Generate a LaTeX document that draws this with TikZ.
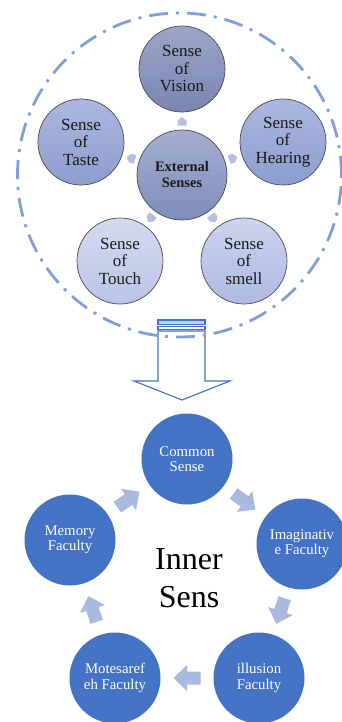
\documentclass[tikz,border=0pt]{standalone}
\usepackage{fontspec}
\setmainfont{Liberation Serif}
\usetikzlibrary{calc}
\definecolor{cblue}{HTML}{4472C4}
\definecolor{cyclearrow}{HTML}{AAB9DF}
\definecolor{ringblue}{HTML}{7F9FDA}
\definecolor{tinyblue}{HTML}{B3BFE2}
\begin{document}
\begin{tikzpicture}[x=1pt,y=1pt,
  sense/.style={circle, draw=black!70, line width=0.7pt, minimum size=86pt,
    inner sep=0pt, align=center, text=black!90,
    font=\fontsize{17}{17.5}\selectfont},
  hub/.style={sense, minimum size=90pt, font=\bfseries\fontsize{14.5}{16}\selectfont},
  faculty/.style={circle, fill=cblue, minimum size=91pt, inner sep=0pt,
    align=center, text=white, font=\fontsize{14.8}{15.3}\selectfont},
  tiny/.pic={\fill[tinyblue] (-4.5,-3.6) -- (4.5,-3.6) -- (4.5,1.2) -- (0,5) -- (-4.5,1.2) -- cycle;},
  cyc/.pic={\fill[cyclearrow] (-13.5,-6.5) -- (0,-6.5) -- (0,-13) -- (13.5,0)
    -- (0,13) -- (0,6.5) -- (-13.5,6.5) -- cycle;}]
\useasboundingbox (0,0) rectangle (342,-722);

% external senses around the hub
\node[hub, top color={rgb,255:red,164;green,174;blue,210}, bottom color={rgb,255:red,128;green,141;blue,186}]
  (ext) at (182,-175) {External\\Senses};
\node[sense, top color={rgb,255:red,156;green,165;blue,200}, bottom color={rgb,255:red,122;green,134;blue,178}]
  (vis) at (182,-69) {Sense\\of\\Vision};
\node[sense, top color={rgb,255:red,172;green,184;blue,224}, bottom color={rgb,255:red,140;green,156;blue,206}]
  (hear) at (283,-142) {Sense\\of\\Hearing};
\node[sense, top color={rgb,255:red,172;green,184;blue,224}, bottom color={rgb,255:red,140;green,156;blue,206}]
  (taste) at (81,-142) {Sense\\of\\Taste};
\node[sense, top color={rgb,255:red,212;green,218;blue,240}, bottom color={rgb,255:red,186;green,196;blue,230}]
  (touch) at (120,-261) {Sense\\of\\Touch};
\node[sense, top color={rgb,255:red,204;green,211;blue,238}, bottom color={rgb,255:red,174;green,186;blue,226}]
  (smell) at (244,-261) {Sense\\of\\smell};

% small markers pointing from the hub to each sense
\pic[rotate=0]    at ($(ext)!0.5!(vis)$)   {tiny};
\pic[rotate=-72]  at ($(ext)!0.5!(hear)$)  {tiny};
\pic[rotate=72]   at ($(ext)!0.5!(taste)$) {tiny};
\pic[rotate=144]  at ($(ext)!0.5!(touch)$) {tiny};
\pic[rotate=-144] at ($(ext)!0.5!(smell)$) {tiny};

% striped down arrow
\coordinate (tip) at (182,-400);
\draw[cblue, line width=1.1pt, fill=cblue!35] (158,-320) rectangle (205,-324.5);
\draw[cblue, line width=1.1pt] (158,-326.5) rectangle (205,-329.5);
\draw[cblue, line width=1.1pt, line join=miter] (158,-331) -- (205,-331) -- (205,-381)
  -- (230,-381) -- (tip) -- (134,-381) -- (158,-381) -- cycle;

% dash-dotted ring around the external senses
\draw[ringblue, line width=2.8pt, dash pattern=on 19pt off 8pt on 3pt off 8pt]
  (179.5,-175) circle[radius=162];

% inner senses cycle
\node[faculty] (com) at (187,-459) {Common\\Sense};
\node[faculty] (ima) at (302,-544) {Imaginativ\\e Faculty};
\node[faculty] (ill) at (259,-678) {illusion\\Faculty};
\node[faculty] (mot) at (115,-678) {Motesaref\\eh Faculty};
\node[faculty] (mem) at (70,-540) {Memory\\Faculty};

\node[align=center, font=\fontsize{32}{38}\selectfont] (title) at (189,-578) {Inner\\Sens};

\pic[rotate=-36.5] at ($(com)!0.5!(ima)$) {cyc};
\pic[rotate=-108]  at ($(ima)!0.5!(ill)$) {cyc};
\pic[rotate=180]   at ($(ill)!0.5!(mot)$) {cyc};
\pic[rotate=108]   at ($(mot)!0.5!(mem)$) {cyc};
\pic[rotate=35]    at ($(mem)!0.5!(com)$) {cyc};
\end{tikzpicture}
\end{document}
